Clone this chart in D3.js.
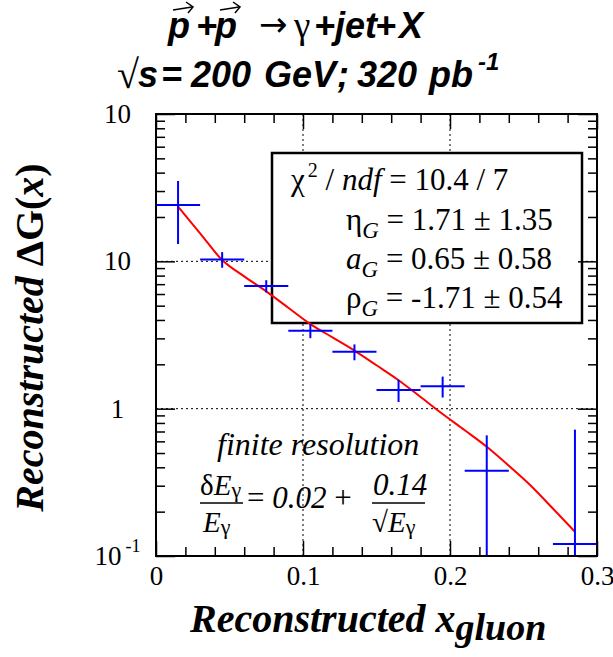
<!DOCTYPE html>
<html><head><meta charset="utf-8">
<script src="https://cdn.jsdelivr.net/npm/d3@7/dist/d3.min.js"></script>
<style>body{margin:0;background:#fff} svg{display:block}</style>
</head><body>
<svg id="c" width="613" height="657"></svg>
<script>
// ---- data ----
const xCenters = [0.015, 0.045, 0.075, 0.105, 0.135, 0.165, 0.195, 0.225, 0.285];
const xHalfWidth = [0.015, 0.015, 0.015, 0.015, 0.015, 0.015, 0.015, 0.015, 0.015];
const yValues = [24.1, 10.3, 6.8, 3.38, 2.43, 1.34, 1.42, 0.379, 0.1205];
const yErrors = [11, 1.25, 0.65, 0.37, 0.30, 0.23, 0.23, 0.28, 0.60];
const fitX = [0.015,0.03,0.045,0.06,0.075,0.09,0.105,0.12,0.135,0.15,0.165,0.18,0.195,0.21,0.225,0.24,0.255,0.27,0.285];
const fitY = [23.5,15.5,10.2,7.9,6.25,4.84,3.75,3.05,2.48,1.97,1.56,1.20,0.92,0.714,0.551,0.41,0.30,0.21,0.146];
const xMajorTicks = [0, 0.1, 0.2, 0.3];
const xTickLabels = ["0", "0.1", "0.2", "0.3"];
const xMinorTicks = [0.02,0.04,0.06,0.08,0.12,0.14,0.16,0.18,0.22,0.24,0.26,0.28];
const yMajorTicks = [0.1, 1, 10, 100];
const yTickBase = ["10", "1", "10", "10"];
const yTickSup = ["-1", "", "", ""];
const xGrid = [0.1, 0.2];
const yGrid = [1, 10];

const svg = d3.select("#c");
const L = 156, R = 597, T = 114, B = 556;
const x = d3.scaleLinear().domain([0, 0.3]).range([L, R]);
const y = d3.scaleLog().domain([0.1, 100]).range([B, T]);
const yMinorTicks = y.ticks().filter(v => !yMajorTicks.some(m => Math.abs(m - v) / m < 1e-6));

const SERIF = "Liberation Serif, Times New Roman, Times, DejaVu Serif, serif";
const SANS = "Liberation Sans, Arial, Helvetica, sans-serif";

// clip
svg.append("defs").append("clipPath").attr("id", "pc")
  .append("rect").attr("x", L).attr("y", T).attr("width", R - L).attr("height", B - T);

// grid
svg.append("g").selectAll("line").data(xGrid).join("line")
  .attr("x1", d => x(d)).attr("x2", d => x(d)).attr("y1", T).attr("y2", B)
  .attr("stroke", "#000").attr("stroke-width", 1).attr("stroke-dasharray", "2,3");
svg.append("g").selectAll("line").data(yGrid).join("line")
  .attr("x1", L).attr("x2", R).attr("y1", d => y(d)).attr("y2", d => y(d))
  .attr("stroke", "#000").attr("stroke-width", 1).attr("stroke-dasharray", "2,3");

// stats box
const box = svg.append("g");
box.append("rect").attr("x", 272).attr("y", 153).attr("width", 310).attr("height", 170)
  .attr("fill", "#fff").attr("stroke", "#000").attr("stroke-width", 2.5);
const bt = (yy, xx) => box.append("text").attr("x", xx).attr("y", yy)
  .style("font-family", SERIF).attr("font-size", 31).attr("fill", "#000");
let t1 = bt(190, 291);
t1.append("tspan").text("χ");
t1.append("tspan").attr("font-size", 20).attr("dy", -13).attr("dx", 3).text("2");
t1.append("tspan").attr("dy", 13).text(" / ");
t1.append("tspan").attr("font-style", "italic").text("ndf");
t1.append("tspan").text(" = 10.4 / 7");
const paramLines = [
  {y: 230, sym: "η", it: false, val: " = 1.71 ± 1.35"},
  {y: 269, sym: "a", it: true, val: " = 0.65 ± 0.58"},
  {y: 308, sym: "ρ", it: false, val: " = -1.71 ± 0.54"}
];
paramLines.forEach(p => {
  const t = bt(p.y, 346);
  t.append("tspan").attr("font-style", p.it ? "italic" : "normal").text(p.sym);
  t.append("tspan").attr("font-style", "italic").attr("font-size", 23).attr("dy", 8).text("G");
  t.append("tspan").attr("dy", -8).text(p.val);
});

// fit curve
const plot = svg.append("g").attr("clip-path", "url(#pc)");
plot.append("path")
  .datum(fitX.map((v, i) => [v, fitY[i]]))
  .attr("d", d3.line().x(d => x(d[0])).y(d => y(d[1])).curve(d3.curveMonotoneX))
  .attr("fill", "none").attr("stroke", "#ff0000").attr("stroke-width", 2);

// data crosses
const pts = xCenters.map((v, i) => ({x: v, w: xHalfWidth[i], y: yValues[i], e: yErrors[i]}));
const g = plot.append("g").attr("stroke", "#0000ff").attr("stroke-width", 2);
g.selectAll("line.h").data(pts).join("line").attr("class", "h")
  .attr("x1", d => x(d.x - d.w)).attr("x2", d => x(d.x + d.w))
  .attr("y1", d => y(d.y)).attr("y2", d => y(d.y));
g.selectAll("line.v").data(pts).join("line").attr("class", "v")
  .attr("x1", d => x(d.x)).attr("x2", d => x(d.x))
  .attr("y1", d => y(d.y + d.e)).attr("y2", d => y(Math.max(d.y - d.e, 0.05)));

// axes ticks
function styleAxis(sel) {
  sel.attr("font-family", null).attr("font-size", null);
  sel.select(".domain").remove();
  sel.selectAll(".tick line").attr("stroke", "#000").attr("stroke-width", 1.5);
  sel.selectAll("text").style("font-family", SERIF).attr("font-size", 27).attr("fill", "#000");
}
svg.append("g").attr("transform", `translate(0,${B})`)
  .call(d3.axisBottom(x).tickValues(xMajorTicks).tickSizeInner(-15).tickSizeOuter(0).tickPadding(10)
    .tickFormat((d, i) => xTickLabels[i])).call(styleAxis);
svg.append("g").attr("transform", `translate(0,${B})`)
  .call(d3.axisBottom(x).tickValues(xMinorTicks).tickSizeInner(-9).tickSizeOuter(0).tickFormat("")).call(styleAxis);
svg.append("g").attr("transform", `translate(0,${T})`)
  .call(d3.axisTop(x).tickValues(xMajorTicks).tickSizeInner(-15).tickSizeOuter(0).tickFormat("")).call(styleAxis);
svg.append("g").attr("transform", `translate(0,${T})`)
  .call(d3.axisTop(x).tickValues(xMinorTicks).tickSizeInner(-9).tickSizeOuter(0).tickFormat("")).call(styleAxis);
svg.append("g").attr("transform", `translate(${L},0)`)
  .call(d3.axisLeft(y).tickValues(yMajorTicks).tickSizeInner(-19).tickSizeOuter(0).tickFormat("")).call(styleAxis);
svg.append("g").attr("transform", `translate(${L},0)`)
  .call(d3.axisLeft(y).tickValues(yMinorTicks).tickSizeInner(-9).tickSizeOuter(0).tickFormat("")).call(styleAxis);
svg.append("g").attr("transform", `translate(${R},0)`)
  .call(d3.axisRight(y).tickValues(yMajorTicks).tickSizeInner(-19).tickSizeOuter(0).tickFormat("")).call(styleAxis);
svg.append("g").attr("transform", `translate(${R},0)`)
  .call(d3.axisRight(y).tickValues(yMinorTicks).tickSizeInner(-9).tickSizeOuter(0).tickFormat("")).call(styleAxis);

// y tick labels
yMajorTicks.forEach((v, i) => {
  const t = svg.append("text").attr("x", 117.5).attr("y", y(v) + 9).attr("text-anchor", "middle")
    .style("font-family", SERIF).attr("font-size", 27).attr("fill", "#000");
  t.append("tspan").text(yTickBase[i]);
  if (yTickSup[i]) t.append("tspan").attr("font-size", 18).attr("dy", -13).attr("dx", 4).text(yTickSup[i]);
});

// frame
svg.append("rect").attr("x", L).attr("y", T).attr("width", R - L).attr("height", B - T)
  .attr("fill", "none").attr("stroke", "#000").attr("stroke-width", 2);

// annotation
const an = svg.append("g").style("font-family", SERIF).attr("fill", "#000");
an.append("text").attr("x", 217).attr("y", 455).attr("font-size", 32).attr("font-style", "italic").text("finite resolution");
let n1 = an.append("text").attr("x", 200).attr("y", 495).attr("font-size", 29);
n1.append("tspan").text("δ");
n1.append("tspan").attr("font-style", "italic").text("E");
n1.append("tspan").attr("font-size", 22).attr("dy", 2).text("γ");
let d1 = an.append("text").attr("x", 203).attr("y", 532).attr("font-size", 29);
d1.append("tspan").attr("font-style", "italic").text("E");
d1.append("tspan").attr("font-size", 22).attr("dy", 2).text("γ");
an.append("line").attr("x1", 200).attr("x2", 243).attr("y1", 503).attr("y2", 503).attr("stroke", "#000").attr("stroke-width", 1.5);
let mid = an.append("text").attr("x", 247).attr("y", 508).attr("font-size", 31);
mid.append("tspan").text("= ");
mid.append("tspan").attr("font-style", "italic").text("0.02");
mid.append("tspan").text(" +");
an.append("text").attr("x", 373).attr("y", 495).attr("font-size", 31).attr("font-style", "italic").text("0.14");
an.append("line").attr("x1", 372).attr("x2", 425).attr("y1", 503).attr("y2", 503).attr("stroke", "#000").attr("stroke-width", 1.5);
let d2 = an.append("text").attr("x", 372).attr("y", 532).attr("font-size", 29);
d2.append("tspan").text("√");
d2.append("tspan").attr("font-style", "italic").text("E");
d2.append("tspan").attr("font-size", 22).attr("dy", 2).text("γ");

// axis titles
const xt = svg.append("text").attr("x", 190).attr("y", 632).style("font-family", SERIF)
  .attr("font-size", 40).attr("font-weight", "bold").attr("font-style", "italic").attr("fill", "#000");
xt.append("tspan").text("Reconstructed x");
xt.append("tspan").attr("font-size", 38).attr("dy", 8).text("gluon");

const yt = svg.append("text").attr("transform", "translate(43,337.5) rotate(-90)").attr("text-anchor", "middle")
  .style("font-family", SERIF).attr("font-size", 40).attr("font-weight", "bold").attr("fill", "#000");
yt.append("tspan").attr("font-style", "italic").text("Reconstructed ");
yt.append("tspan").text("ΔG(");
yt.append("tspan").attr("font-style", "italic").text("x");
yt.append("tspan").text(")");

// title
const ti = svg.append("g").attr("fill", "#000");
const tok = (txt, xx, yy, opts = {}) => ti.append("text").attr("x", xx).attr("y", yy)
  .style("font-family", opts.fam || SANS).attr("font-size", opts.size || 36)
  .attr("font-weight", opts.fam ? "normal" : "bold").attr("font-style", opts.fam ? "normal" : "italic").text(txt);
tok("p", 168, 38); tok("+", 196, 38); tok("p", 215, 38);
tok("→", 259, 36, {fam: "DejaVu Sans, sans-serif", size: 34});
tok("γ", 294, 38, {fam: SERIF, size: 37});
tok("+", 314, 38); tok("jet", 335, 38); tok("+", 375, 38); tok("X", 399, 38);
[168, 215].forEach(px => {
  ti.append("line").attr("x1", px + 5).attr("x2", px + 24).attr("y1", 10).attr("y2", 7)
    .attr("stroke", "#000").attr("stroke-width", 1.5);
  ti.append("path").attr("d", `M${px + 18},${2} L${px + 25},${7} L${px + 20},${13}`)
    .attr("fill", "none").attr("stroke", "#000").attr("stroke-width", 1.5);
});
tok("√", 117, 88, {fam: SERIF, size: 40}); tok("s", 138, 87); tok("=", 161, 87);
tok("200", 191, 87); tok("GeV", 264, 87); tok(";", 337, 87); tok("320", 357, 87); tok("pb", 429, 87);
tok("-1", 478, 70, {size: 24});
</script>
</body></html>
